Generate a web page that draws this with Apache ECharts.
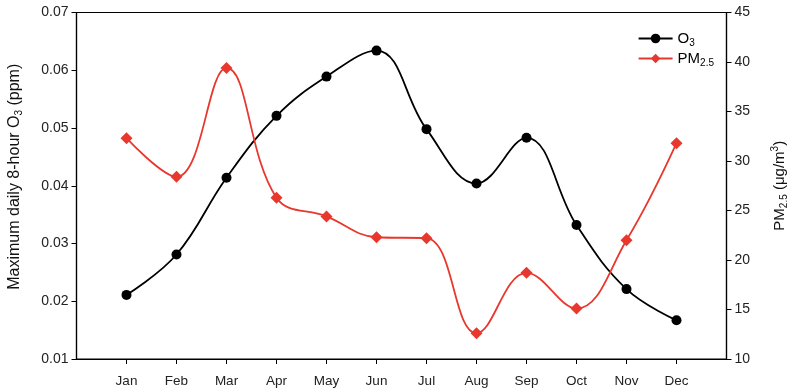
<!DOCTYPE html>
<html>
<head>
<meta charset="utf-8">
<script src="https://cdn.jsdelivr.net/npm/echarts@6/dist/echarts.min.js"></script>
<style>html,body{margin:0;padding:0;background:#fff}#c{width:791px;height:392px}</style>
</head>
<body>
<div id="c"></div>
<script>
const months = ['Jan','Feb','Mar','Apr','May','Jun','Jul','Aug','Sep','Oct','Nov','Dec'];
const o3 = [0.0211, 0.0281, 0.0414, 0.0521, 0.0589, 0.0634, 0.0498, 0.0404, 0.0483, 0.0332, 0.0221, 0.0167];
const pm25 = [32.3, 28.4, 39.4, 26.3, 24.4, 22.3, 22.2, 12.6, 18.7, 15.1, 22.0, 31.8];
const leftTicks = [0.01, 0.07, 0.01];   // min, max, interval
const rightTicks = [10, 45, 5];

const xCats = [' '].concat(months, ['  ']);
const font = 'Liberation Sans, Arial, sans-serif';
const red = '#e8382e';

const chart = echarts.init(document.getElementById('c'), null, {renderer: 'canvas'});
chart.setOption({
  animation: false,
  backgroundColor: '#fff',
  textStyle: {fontFamily: font},
  grid: {left: 76.5, right: 64.5, top: 12.5, bottom: 33, show: true, borderColor: '#000', borderWidth: 1.2,
    backgroundColor: 'transparent', containLabel: false, outerBoundsMode: 'none'},
  legend: {
    right: 72, top: 26, orient: 'vertical', itemGap: 3, itemWidth: 34, itemHeight: 12,
    textStyle: {fontSize: 15, color: '#000', fontFamily: font,
      rich: {b: {fontSize: 15, color: '#000'}, s: {fontSize: 10, color: '#000', verticalAlign: 'bottom', padding: [9, 0, 0, 0]}}},
    formatter: function (n) { return n === 'O3' ? '{b|O}{s|3}' : '{b|PM}{s|2.5}'; },
    data: ['O3', 'PM2.5']
  },
  xAxis: {
    type: 'category', data: xCats, boundaryGap: false,
    axisLine: {lineStyle: {color: '#000', width: 1.2}},
    axisTick: {length: 5, lineStyle: {color: '#000'}, interval: function (i) { return i > 0 && i < 13; }},
    axisLabel: {color: '#222', fontSize: 13.5, margin: 15, fontFamily: font, interval: function (i) { return i > 0 && i < 13; }},
    splitLine: {show: false}
  },
  yAxis: [
    {
      type: 'value', min: leftTicks[0], max: leftTicks[1], interval: leftTicks[2], position: 'left',
      axisLine: {show: true, lineStyle: {color: '#000', width: 1.2}},
      axisTick: {show: true, length: 5, lineStyle: {color: '#000'}},
      axisLabel: {color: '#222', fontSize: 14, margin: 8, fontFamily: font, formatter: v => v.toFixed(2)},
      splitLine: {show: false},
      name: '{t|Maximum daily 8-hour O}{s|3}{t| (ppm)}',
      nameLocation: 'middle', nameRotate: 90, nameGap: 52,
      nameTextStyle: {fontFamily: font, padding: [0, 0, 0, 18], rich: {t: {fontSize: 16, color: '#111'}, s: {fontSize: 10, color: '#111', verticalAlign: 'bottom', padding: [10, 0, 0, 0]}}}
    },
    {
      type: 'value', min: rightTicks[0], max: rightTicks[1], interval: rightTicks[2], position: 'right',
      axisLine: {show: true, lineStyle: {color: '#000', width: 1.2}},
      axisTick: {show: true, length: 5, lineStyle: {color: '#000'}},
      axisLabel: {color: '#222', fontSize: 14, margin: 8, fontFamily: font},
      splitLine: {show: false},
      name: '{t|PM}{s|2.5}{t| (μg/m}{p|3}{t|)}',
      nameLocation: 'middle', nameRotate: 90, nameGap: 44,
      nameTextStyle: {fontFamily: font, rich: {t: {fontSize: 15, color: '#111'}, s: {fontSize: 10, color: '#111', verticalAlign: 'bottom', padding: [9, 0, 0, 0]}, p: {fontSize: 10, color: '#111', padding: [0, 0, 9, 0]}}}
    }
  ],
  series: [
    {
      name: 'O3', type: 'line', yAxisIndex: 0, smooth: 0.4,
      data: months.map((m, i) => [m, o3[i]]),
      symbol: 'circle', symbolSize: 10,
      lineStyle: {color: '#000', width: 1.8}, itemStyle: {color: '#000'}
    },
    {
      name: 'PM2.5', type: 'line', yAxisIndex: 1, smooth: 0.4,
      data: months.map((m, i) => [m, pm25[i]]),
      symbol: 'diamond', symbolSize: 12,
      lineStyle: {color: red, width: 1.8}, itemStyle: {color: red}
    }
  ]
});
</script>
</body>
</html>
